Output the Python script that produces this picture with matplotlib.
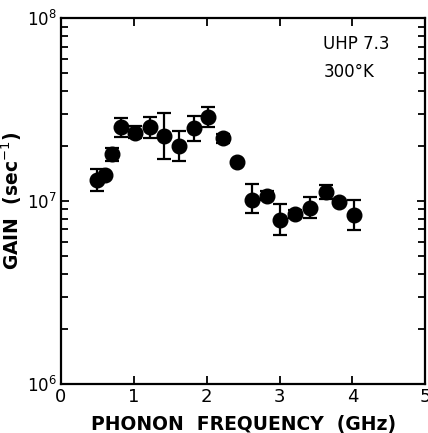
import numpy as np
import matplotlib
matplotlib.use("Agg")
from matplotlib import pyplot as plt
from matplotlib.ticker import LogLocator, NullFormatter, FixedLocator

# dados
freq = [0.49, 0.60, 0.70, 0.82, 1.02, 1.22, 1.42, 1.62, 1.83, 2.02,
        2.23, 2.41, 2.62, 2.83, 3.01, 3.21, 3.42, 3.64, 3.82, 4.02]
gain = [1.30e7, 1.39e7, 1.81e7, 2.53e7, 2.37e7, 2.55e7, 2.26e7, 2.00e7, 2.50e7, 2.89e7,
        2.20e7, 1.64e7, 1.02e7, 1.07e7, 7.87e6, 8.49e6, 9.19e6, 1.12e7, 9.90e6, 8.38e6]
err_hi = [1.49e7, 1.39e7, 1.94e7, 2.83e7, 2.57e7, 2.89e7, 3.04e7, 2.42e7, 2.91e7, 3.27e7,
          2.33e7, 1.64e7, 1.24e7, 1.13e7, 9.63e6, 8.95e6, 1.05e7, 1.22e7, 9.90e6, 1.01e7]
err_lo = [1.14e7, 1.39e7, 1.65e7, 2.24e7, 2.22e7, 2.20e7, 1.69e7, 1.66e7, 2.13e7, 2.55e7,
          2.08e7, 1.64e7, 8.57e6, 1.01e7, 6.52e6, 8.05e6, 8.11e6, 1.03e7, 9.90e6, 6.95e6]

gain = np.array(gain)
yerr = [gain - np.array(err_lo), np.array(err_hi) - gain]

plt.rcParams['font.family'] = ['DejaVu Sans']

fig = plt.figure(figsize=(4.28, 4.33), dpi=100)
ax = fig.add_axes([0.1425, 0.113, 0.851, 0.845])

ax.errorbar(freq, gain, yerr=yerr, fmt='o', color='black', markersize=10.5,
            elinewidth=1.6, capsize=5, capthick=1.6)

ax.set_yscale('log')
ax.set_xlim(0, 5)
ax.set_ylim(1e6, 1e8)

ax.xaxis.set_major_locator(FixedLocator([0, 1, 2, 3, 4, 5]))
ax.yaxis.set_major_locator(FixedLocator([1e6, 1e7, 1e8]))
ax.yaxis.set_minor_locator(LogLocator(base=10, subs=np.arange(2, 10)))
ax.yaxis.set_minor_formatter(NullFormatter())
ax.set_yticklabels([r'$10^6$', r'$10^7$', r'$10^8$'], fontsize=12)
ax.set_xticklabels(['0', '1', '2', '3', '4', '5'], fontsize=13)

ax.tick_params(which='both', direction='in', top=True, right=True, width=1.3)
ax.tick_params(which='major', length=6, pad=3)
ax.tick_params(which='minor', length=5)
for s in ax.spines.values():
    s.set_linewidth(1.6)

ax.set_xlabel('PHONON  FREQUENCY  (GHz)', fontsize=13.5, fontweight='bold', labelpad=6)
ax.set_ylabel(r'GAIN  (sec$^{-1}$)', fontsize=13.5, fontweight='bold', labelpad=2)

ax.text(0.72, 0.915, 'UHP 7.3', transform=ax.transAxes, fontsize=12)
ax.text(0.72, 0.84, '300°K', transform=ax.transAxes, fontsize=12)

fig.savefig('out.png', dpi=100)
